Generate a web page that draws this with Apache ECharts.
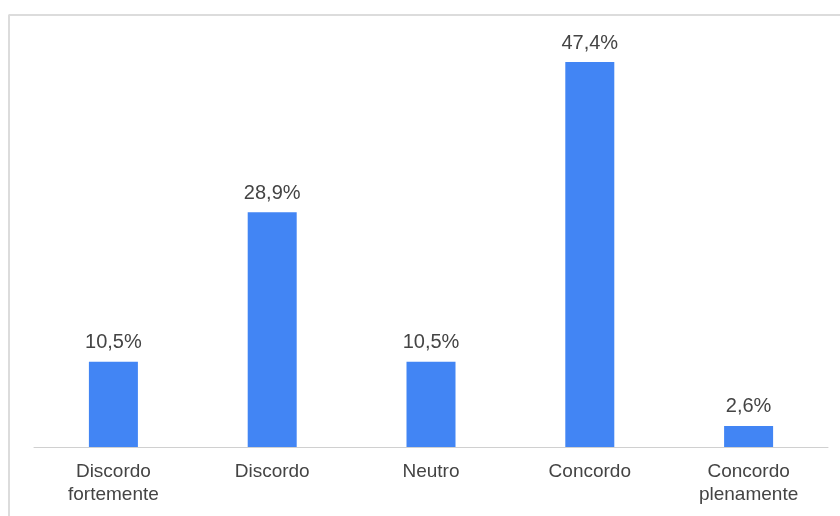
<!DOCTYPE html>
<html><head><meta charset="utf-8">
<script src="https://cdn.jsdelivr.net/npm/echarts@6/dist/echarts.min.js"></script>
<style>html,body{margin:0;padding:0;background:#fff}#c{width:840px;height:516px}</style>
</head><body><div id="c"></div>
<script>
const categories = ["Discordo\nfortemente", "Discordo", "Neutro", "Concordo", "Concordo\nplenamente"];
const values = [10.5, 28.9, 10.5, 47.4, 2.6];
const chart = echarts.init(document.getElementById('c'));
const FONT = '"Liberation Sans", Arial, sans-serif';
chart.setOption({
  animation: false,
  backgroundColor: '#fff',
  graphic: [
    {type:'line', shape:{x1:8.5,y1:15,x2:840,y2:15}, style:{stroke:'#dcdcdc', lineWidth:2}},
    {type:'line', shape:{x1:9,y1:15,x2:9,y2:516}, style:{stroke:'#dcdcdc', lineWidth:2}}
  ],
  grid: {left: 34, right: 12, top: 15, bottom: 69},
  xAxis: {
    type: 'category', data: categories,
    axisLine: {lineStyle: {color: '#d0d0d0'}},
    axisTick: {show: false},
    axisLabel: {color: '#444', fontFamily: FONT, fontSize: 19, lineHeight: 23, margin: 13}
  },
  yAxis: {type: 'value', min: 0, max: 53.2, show: false, splitLine: {show: false}},
  series: [{
    type: 'bar', data: values, barWidth: 49,
    itemStyle: {color: '#4285F4'},
    label: {show: true, position: 'top', distance: 9, color: '#444', fontFamily: FONT, fontSize: 20,
      formatter: p => p.value.toFixed(1).replace('.', ',') + '%'}
  }]
});
</script></body></html>
